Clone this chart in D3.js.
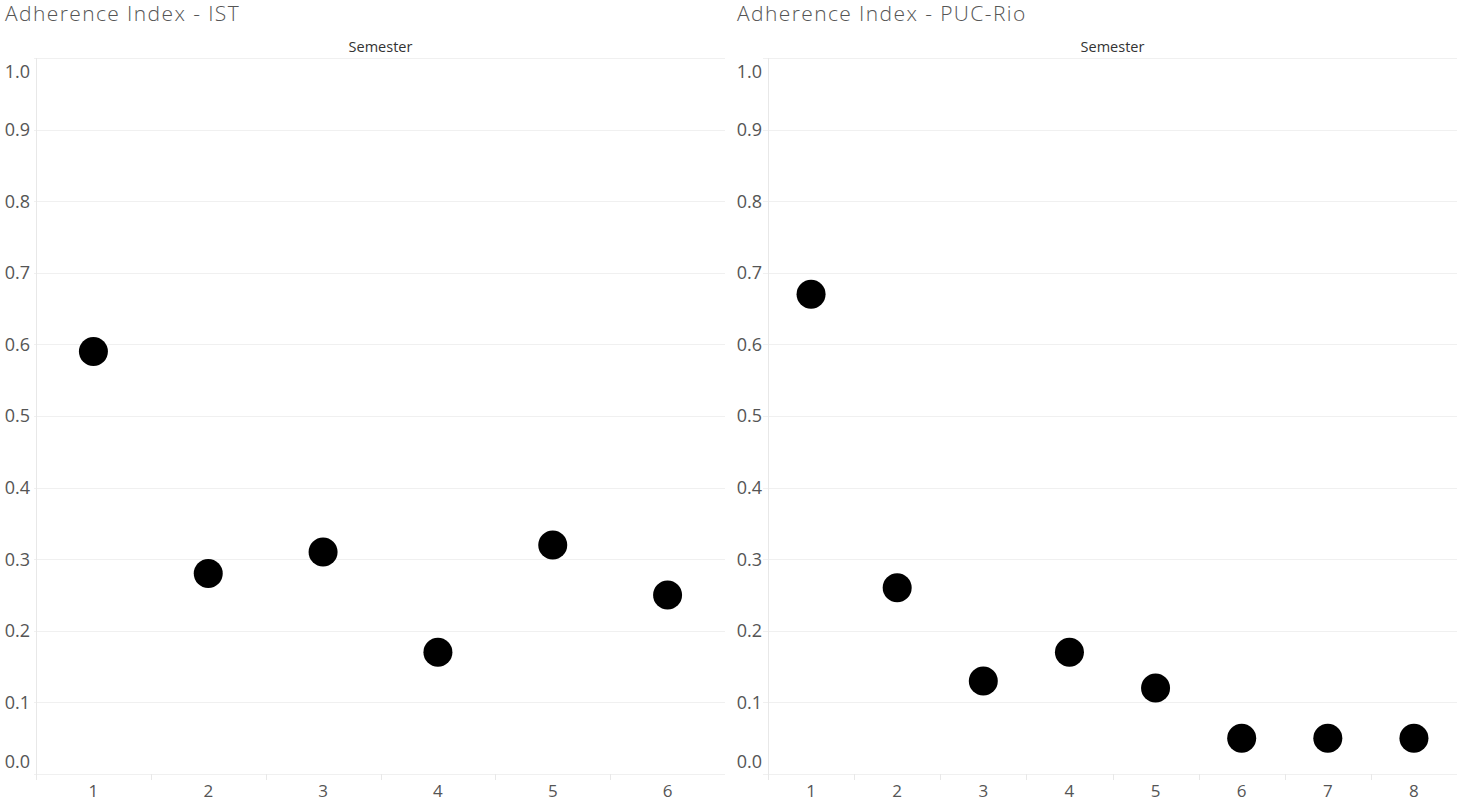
<!DOCTYPE html>
<html>
<head>
<meta charset="utf-8">
<script src="https://cdn.jsdelivr.net/npm/d3@7"></script>
<style>
  body { margin: 0; background: #fff; }
  svg { font-family: 'Open Sans', 'Noto Sans', sans-serif; }
</style>
</head>
<body>
<svg id="chart" width="1459" height="802"></svg>
<script>
const yTicks = [0, 0.1, 0.2, 0.3, 0.4, 0.5, 0.6, 0.7, 0.8, 0.9, 1.0];

const istSemesters = ['1', '2', '3', '4', '5', '6'];
const istValues = [0.59, 0.28, 0.31, 0.17, 0.32, 0.25];

const pucSemesters = ['1', '2', '3', '4', '5', '6', '7', '8'];
const pucValues = [0.67, 0.26, 0.13, 0.17, 0.12, 0.05, 0.05, 0.05];

const svg = d3.select('#chart');
const paneTop = 58,
  paneBottom = 774;

const y = d3.scaleLinear().domain([0, 1]).range([paneBottom, paneTop]);

function drawPanel(opts) {
  const { title, titleX, left, right, gridStart, labelX, cats, values } = opts;
  const g = svg.append('g');

  const x = d3.scaleBand().domain(cats).range([left, right]);

  g.append('text')
    .attr('x', titleX)
    .attr('y', 21)
    .attr('font-size', 21)
    .attr('letter-spacing', 1.4)
    .attr('font-weight', 300)
    .attr('fill', '#555')
    .text(title);

  g.append('text')
    .attr('x', (left + right) / 2)
    .attr('y', 52)
    .attr('text-anchor', 'middle')
    .attr('font-size', 14.5)
    .attr('fill', '#333')
    .text('Semester');

  // gridlines
  g.append('g')
    .selectAll('line')
    .data(yTicks)
    .join('line')
    .attr('x1', gridStart)
    .attr('x2', right)
    .attr('y1', (d) => Math.round(y(d)) + 0.5)
    .attr('y2', (d) => Math.round(y(d)) + 0.5)
    .attr('stroke', '#f0f0f0')
    .attr('stroke-width', 1);

  // left axis line
  g.append('line')
    .attr('x1', left + 0.5)
    .attr('x2', left + 0.5)
    .attr('y1', paneTop)
    .attr('y2', paneBottom + 6)
    .attr('stroke', '#e8e8e8');

  // x band separators
  g.append('g')
    .selectAll('line')
    .data(cats.slice(1))
    .join('line')
    .attr('x1', (d) => Math.round(x(d)) + 0.5)
    .attr('x2', (d) => Math.round(x(d)) + 0.5)
    .attr('y1', paneBottom)
    .attr('y2', paneBottom + 6)
    .attr('stroke', '#e8e8e8');

  // y labels (clamped inside the pane like the original)
  g.append('g')
    .selectAll('text')
    .data(yTicks)
    .join('text')
    .attr('x', labelX)
    .attr('y', (d) => Math.max(paneTop + 14, Math.min(paneBottom - 12, y(d))))
    .attr('dy', '0.35em')
    .attr('text-anchor', 'end')
    .attr('font-size', 18)
    .attr('fill', '#555')
    .text((d) => d3.format('.1f')(d));

  // x labels
  g.append('g')
    .selectAll('text')
    .data(cats)
    .join('text')
    .attr('x', (d) => x(d) + x.bandwidth() / 2)
    .attr('y', 797)
    .attr('text-anchor', 'middle')
    .attr('font-size', 17)
    .attr('fill', '#555')
    .text((d) => d);

  // points
  g.append('g')
    .selectAll('circle')
    .data(values)
    .join('circle')
    .attr('cx', (d, i) => x(cats[i]) + x.bandwidth() / 2)
    .attr('cy', (d) => y(d))
    .attr('r', 14.5)
    .attr('fill', '#000');
}

drawPanel({
  title: 'Adherence Index - IST',
  titleX: 5,
  left: 36,
  right: 725,
  gridStart: 34,
  labelX: 30,
  cats: istSemesters,
  values: istValues,
});

drawPanel({
  title: 'Adherence Index - PUC-Rio',
  titleX: 737,
  left: 768,
  right: 1457,
  gridStart: 763,
  labelX: 762,
  cats: pucSemesters,
  values: pucValues,
});
</script>
</body>
</html>
